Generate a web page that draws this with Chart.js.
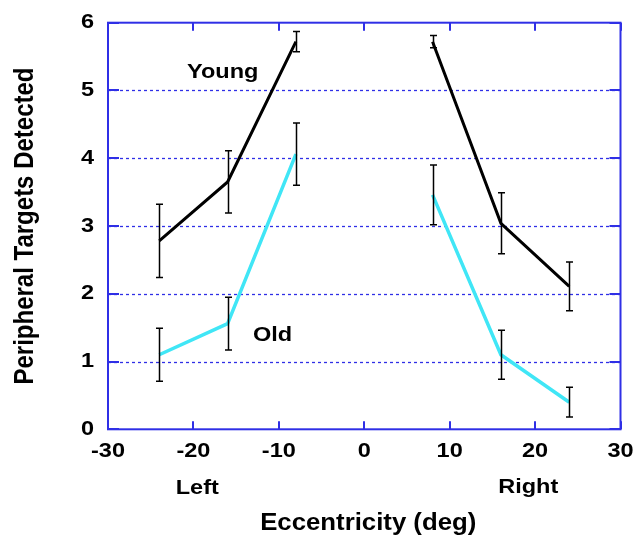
<!DOCTYPE html>
<html lang="en">
<head>
    <meta charset="UTF-8">
    <title>Peripheral Targets Detected</title>
    <script src="https://cdn.jsdelivr.net/npm/chart.js"></script>
    <style>
        html, body { margin: 0; padding: 0; background: #fff; }
        #wrap { width: 634px; height: 535px; }
    </style>
</head>
<body>
<div id="wrap"><canvas id="eccChart" width="634" height="535"></canvas></div>
<script>
    // values
    const eccentricity = [-24, -16, -8, 8, 16, 24];
    const young = [2.78, 3.65, 5.72, 5.72, 3.04, 2.11];
    const youngErr = [0.54, 0.46, 0.15, 0.09, 0.45, 0.36];
    const old = [1.10, 1.56, 4.06, 3.46, 1.10, 0.40];
    const oldErr = [0.39, 0.39, 0.46, 0.44, 0.36, 0.22];
    const xTicks = [-30, -20, -10, 0, 10, 20, 30];
    const yTicks = [0, 1, 2, 3, 4, 5, 6];

    const BLUE = '#2f2fe6';
    const FONT = '"Liberation Sans", Arial, sans-serif';
    const SX = 1.12; // the original picture is a little wider than tall

    // left and right halves are not joined
    function toPoints(values) {
        const pts = [];
        eccentricity.forEach((x, i) => {
            if (i > 0 && Math.sign(x) !== Math.sign(eccentricity[i - 1])) {
                pts.push({ x: 0, y: null });
            }
            pts.push({ x: x, y: values[i] });
        });
        return pts;
    }

    function wideText(ctx, text, x, y, size, align) {
        ctx.save();
        ctx.font = 'bold ' + size + 'px ' + FONT;
        ctx.fillStyle = '#000';
        ctx.textAlign = align;
        ctx.textBaseline = 'alphabetic';
        ctx.translate(x, y);
        ctx.scale(SX, 1);
        ctx.fillText(text, 0, 0);
        ctx.restore();
    }

    const framePlugin = {
        id: 'frame',
        beforeDatasetsDraw(chart) {
            const { ctx, chartArea: a, scales: { x, y } } = chart;
            ctx.save();
            ctx.strokeStyle = BLUE;
            ctx.lineWidth = 1.3;
            ctx.setLineDash([3, 3]);
            yTicks.forEach(v => {
                if (v === 0 || v === 6) return;
                const py = Math.round(y.getPixelForValue(v)) + 0.5;
                ctx.beginPath();
                ctx.moveTo(a.left, py);
                ctx.lineTo(a.right, py);
                ctx.stroke();
            });
            ctx.restore();
        },
        afterDatasetsDraw(chart) {
            const { ctx, chartArea: a, scales: { x, y } } = chart;

            // error bars
            ctx.save();
            ctx.strokeStyle = '#000';
            ctx.lineWidth = 1.5;
            [[young, youngErr], [old, oldErr]].forEach(([vals, errs]) => {
                eccentricity.forEach((e, i) => {
                    const px = Math.round(x.getPixelForValue(e)) + 0.5;
                    const top = y.getPixelForValue(vals[i] + errs[i]);
                    const bot = y.getPixelForValue(vals[i] - errs[i]);
                    ctx.beginPath();
                    ctx.moveTo(px, top);
                    ctx.lineTo(px, bot);
                    ctx.moveTo(px - 3.5, top);
                    ctx.lineTo(px + 3.5, top);
                    ctx.moveTo(px - 3.5, bot);
                    ctx.lineTo(px + 3.5, bot);
                    ctx.stroke();
                });
            });
            ctx.restore();

            // frame and inward ticks
            ctx.save();
            ctx.strokeStyle = BLUE;
            ctx.lineWidth = 2;
            ctx.strokeRect(a.left, a.top, a.right - a.left, a.bottom - a.top);
            ctx.beginPath();
            xTicks.forEach(v => {
                const px = Math.round(x.getPixelForValue(v));
                ctx.moveTo(px, a.bottom);
                ctx.lineTo(px, a.bottom - 8);
                ctx.moveTo(px, a.top);
                ctx.lineTo(px, a.top + 8);
            });
            yTicks.forEach(v => {
                const py = Math.round(y.getPixelForValue(v));
                ctx.moveTo(a.left, py);
                ctx.lineTo(a.left + 11, py);
                ctx.moveTo(a.right, py);
                ctx.lineTo(a.right - 11, py);
            });
            ctx.stroke();
            ctx.restore();

            // tick labels
            yTicks.forEach(v => {
                wideText(ctx, String(v), a.left - 14, y.getPixelForValue(v) + 5.5, 21, 'right');
            });
            xTicks.forEach(v => {
                wideText(ctx, String(v), x.getPixelForValue(v), 457, 21, 'center');
            });

            // labels
            wideText(ctx, 'Young', 187, 78, 21, 'left');
            wideText(ctx, 'Old', 253, 341, 21, 'left');
            wideText(ctx, 'Left', x.getPixelForValue(-24) + 38, 494, 21, 'center');
            wideText(ctx, 'Right', x.getPixelForValue(24) - 41, 493, 21, 'center');
            wideText(ctx, 'Eccentricity (deg)', (a.left + a.right) / 2 + 4, 530, 23, 'center');

            ctx.save();
            ctx.font = 'bold 24px ' + FONT;
            ctx.fillStyle = '#000';
            ctx.textAlign = 'center';
            ctx.translate(33, (a.top + a.bottom) / 2);
            ctx.scale(SX, 1);
            ctx.rotate(-Math.PI / 2);
            ctx.fillText('Peripheral Targets Detected', 0, 0);
            ctx.restore();
        }
    };

    new Chart(document.getElementById('eccChart'), {
        type: 'line',
        data: {
            datasets: [
                {
                    label: 'Young',
                    data: toPoints(young),
                    borderColor: '#000000',
                    borderWidth: 3,
                    pointRadius: 0,
                    spanGaps: false,
                    tension: 0
                },
                {
                    label: 'Old',
                    data: toPoints(old),
                    borderColor: '#40e6f6',
                    borderWidth: 3.5,
                    pointRadius: 0,
                    spanGaps: false,
                    tension: 0
                }
            ]
        },
        options: {
            responsive: false,
            animation: false,
            layout: { padding: { top: 22.7, right: 13.5, left: 0, bottom: 0 } },
            plugins: {
                legend: { display: false },
                tooltip: { enabled: false }
            },
            scales: {
                x: {
                    type: 'linear',
                    min: -30,
                    max: 30,
                    ticks: { display: false, stepSize: 10 },
                    grid: { display: false },
                    border: { display: false },
                    afterFit: s => { s.height = 105.7; }
                },
                y: {
                    min: 0,
                    max: 6,
                    ticks: { display: false, stepSize: 1 },
                    grid: { display: false },
                    border: { display: false },
                    afterFit: s => { s.width = 108; }
                }
            }
        },
        plugins: [framePlugin]
    });
</script>
</body>
</html>
